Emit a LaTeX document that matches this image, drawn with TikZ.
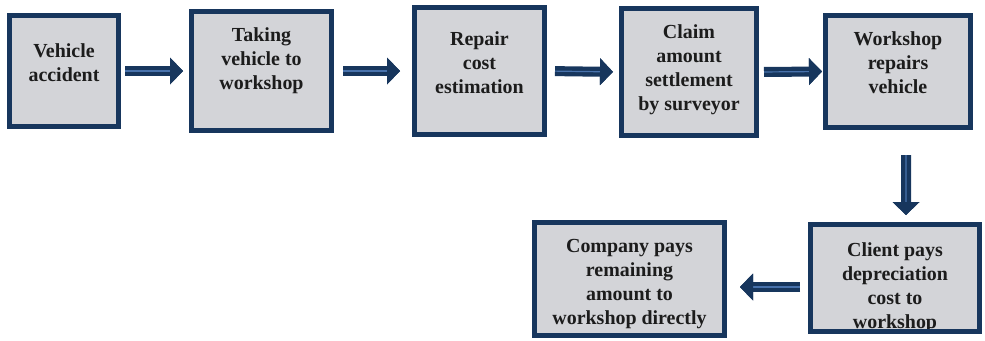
\documentclass[tikz,border=0pt]{standalone}
\usepackage{fontspec}
\setmainfont{Liberation Serif}
\usetikzlibrary{calc,arrows.meta}
\definecolor{navy}{RGB}{23,54,93}
\definecolor{boxgray}{RGB}{211,212,216}
\definecolor{corelite}{RGB}{72,114,172}
\definecolor{inktext}{RGB}{28,28,28}
\tikzset{
	stepbox/.style={draw=navy, fill=boxgray, line width=5bp, inner sep=0pt},
	steptext/.style={text=inktext, align=center, inner sep=0pt, font=\bfseries\fontsize{20}{24}\selectfont},
	flow/.style={draw=navy, line width=10bp, -{Triangle[width=27bp,length=13bp,line width=0pt]},
		postaction={draw=corelite, line width=1.2bp, -{Triangle[width=27bp,length=13bp,line width=0pt,color=navy]}}}
}

\begin{document}
\begin{tikzpicture}[x=1bp,y=-1bp]
	%%%%% START %%%%%
	\useasboundingbox (0,0) rectangle (985,340);
	
	% top row
	\node[stepbox, minimum width=109bp, minimum height=111bp] (accident) at (64,71) {};
	\node[steptext] (accidentT) at (64,63) {Vehicle\\accident};
	
	\node[stepbox, minimum width=140bp, minimum height=119bp] (taking) at (261.5,71) {};
	\node[steptext] (takingT) at (261.5,61) {Taking\\vehicle to\\workshop};
	
	\node[stepbox, minimum width=130bp, minimum height=127bp] (estimate) at (479.5,71) {};
	\node[steptext] (estimateT) at (479.5,63) {Repair\\cost\\estimation};
	
	\node[stepbox, minimum width=135bp, minimum height=127bp] (settle) at (689,72) {};
	\node[steptext] (settleT) at (689,69.5) {Claim\\amount\\settlement\\by surveyor};
	
	\node[stepbox, minimum width=145bp, minimum height=112bp] (repairs) at (898,71.5) {};
	\node[steptext] (repairsT) at (898,62.5) {Workshop\\repairs\\vehicle};
	
	% bottom row
	\node[stepbox, minimum width=169bp, minimum height=107bp] (client) at (895,278) {};
	\node[steptext] (clientT) at (895,288) {Client pays\\depreciation\\cost to\\workshop};
	\draw[navy, line width=5bp] ([yshift=2.5bp]client.south west) -- ([yshift=2.5bp]client.south east);
	
	\node[stepbox, minimum width=190bp, minimum height=113bp] (company) at (629.5,279) {};
	\node[steptext] (companyT) at (629.5,284) {Company pays\\remaining\\amount to\\workshop directly};
	
	% arrows
	\draw[flow, shorten <=4bp, shorten >=6bp] (accident.east) -- (taking.west);
	\draw[flow, shorten <=9bp, shorten >=12bp] (taking.east) -- (estimate.west);
	\draw[flow, shorten <=8bp, shorten >=6bp] (estimate.east) -- (settle.west);
	\draw[flow, shorten <=5bp, shorten >=1bp] (settle.east) -- (repairs.west);
	\draw[flow, shorten <=25bp, shorten >=7bp] ([xshift=8bp]repairs.south) -- ([xshift=11bp]client.north);
	\draw[flow, shorten <=8bp, shorten >=13bp] ([yshift=-9bp]client.west) -- ([yshift=-8bp]company.east);
	
	%%%%% END %%%%%
\end{tikzpicture}
\end{document}
